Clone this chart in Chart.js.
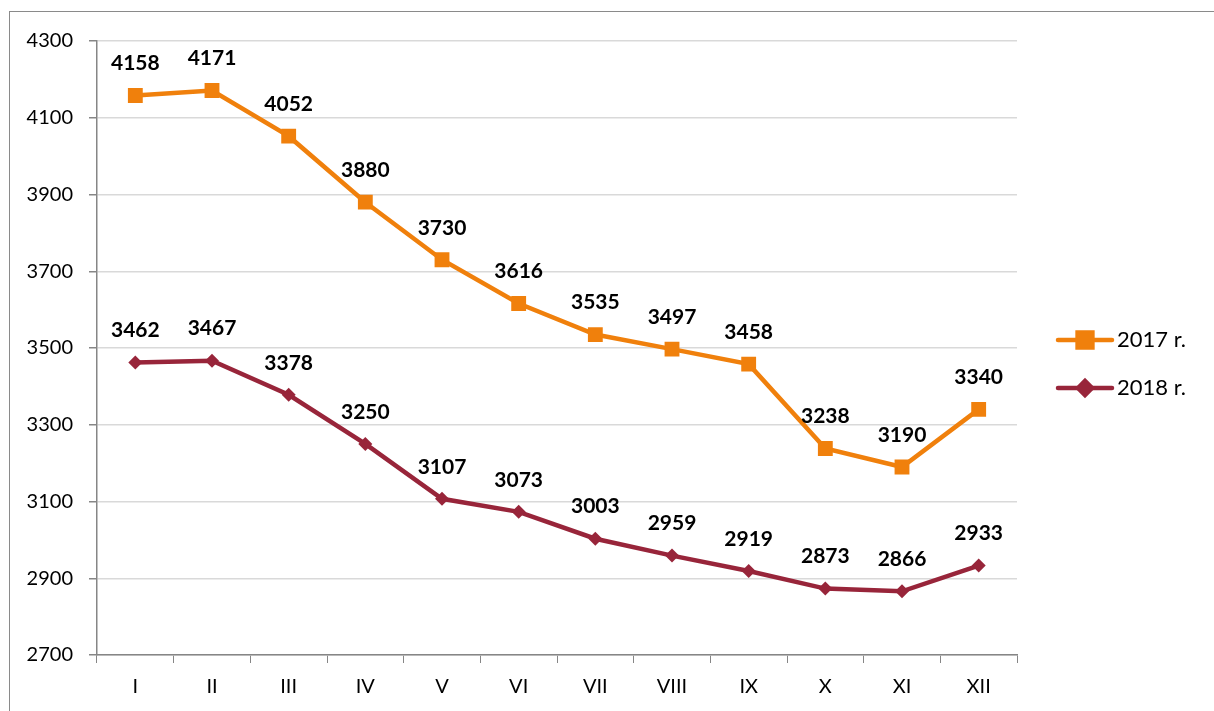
<!DOCTYPE html>
<html>
<head>
<meta charset="utf-8">
<script src="https://cdn.jsdelivr.net/npm/chart.js@4/dist/chart.umd.min.js"></script>
<style>
  html, body { margin: 0; padding: 0; background: #fff; }
  #wrap { width: 1214px; height: 711px; }
</style>
</head>
<body>
<div id="wrap"><canvas id="chart" width="1214" height="711"></canvas></div>
<script>
const months = ["I", "II", "III", "IV", "V", "VI", "VII", "VIII", "IX", "X", "XI", "XII"];
const values2017 = [4158, 4171, 4052, 3880, 3730, 3616, 3535, 3497, 3458, 3238, 3190, 3340];
const values2018 = [3462, 3467, 3378, 3250, 3107, 3073, 3003, 2959, 2919, 2873, 2866, 2933];
const seriesNames = ["2017 r.", "2018 r."];

const ORANGE = "#F0800C";
const DARKRED = "#98253A";
const FONT = "Lato, 'Open Sans', sans-serif";

// outer frame of the chart object
const framePlugin = {
  id: "frame",
  beforeDraw(chart) {
    const ctx = chart.ctx;
    ctx.save();
    ctx.fillStyle = "#fff";
    ctx.fillRect(0, 0, chart.width, chart.height);
    ctx.strokeStyle = "#8a8a8a";
    ctx.lineWidth = 1;
    ctx.strokeRect(9.5, 11.5, 1400, 900);
    ctx.restore();
  }
};

// value labels above each point
const valueLabels = {
  id: "valueLabels",
  afterDatasetsDraw(chart) {
    const ctx = chart.ctx;
    ctx.save();
    ctx.font = "bold 21px " + FONT;
    ctx.fillStyle = "#000";
    ctx.textAlign = "center";
    ctx.textBaseline = "middle";
    chart.data.datasets.forEach((ds, i) => {
      chart.getDatasetMeta(i).data.forEach((pt, j) => {
        ctx.fillText(String(ds.data[j]), pt.x, pt.y - 32);
      });
    });
    ctx.restore();
  }
};

// legend on the right: line with marker + label
const sideLegend = {
  id: "sideLegend",
  afterDraw(chart) {
    const ctx = chart.ctx;
    const x0 = 1058, x1 = 1112;
    const ys = [340, 388];
    ctx.save();
    chart.data.datasets.forEach((ds, i) => {
      const y = ys[i];
      ctx.strokeStyle = ds.borderColor;
      ctx.lineWidth = 4.5;
      ctx.lineCap = "round";
      ctx.beginPath();
      ctx.moveTo(x0, y);
      ctx.lineTo(x1, y);
      ctx.stroke();
      Chart.helpers.drawPoint(ctx, {
        pointStyle: ds.pointStyle,
        radius: ds.pointRadius,
        borderWidth: 1
      }, (x0 + x1) / 2, y);
      ctx.fillStyle = ds.borderColor;
      ctx.fill();
      ctx.fillStyle = "#000";
      ctx.font = "22px " + FONT;
      ctx.textAlign = "left";
      ctx.textBaseline = "middle";
      ctx.fillText(seriesNames[i], x1 + 5, y);
    });
    ctx.restore();
  }
};

new Chart(document.getElementById("chart"), {
  type: "line",
  data: {
    labels: months,
    datasets: [
      {
        label: seriesNames[0],
        data: values2017,
        borderColor: ORANGE,
        backgroundColor: ORANGE,
        borderWidth: 4.5,
        pointStyle: "rect",
        pointRadius: 10.5,
        pointHoverRadius: 10.5,
        pointBorderWidth: 0,
        tension: 0
      },
      {
        label: seriesNames[1],
        data: values2018,
        borderColor: DARKRED,
        backgroundColor: DARKRED,
        borderWidth: 4.5,
        pointStyle: "rectRot",
        pointRadius: 7,
        pointHoverRadius: 7,
        pointBorderWidth: 0,
        tension: 0
      }
    ]
  },
  options: {
    responsive: false,
    animation: false,
    layout: { padding: { top: 41, right: 197, left: 0, bottom: 0 } },
    plugins: {
      legend: { display: false },
      tooltip: { enabled: false }
    },
    scales: {
      x: {
        offset: true,
        grid: {
          display: true,
          offset: true,
          drawOnChartArea: false,
          drawTicks: true,
          tickLength: 8,
          tickColor: "#868686"
        },
        border: { color: "#868686", width: 1.5 },
        ticks: { color: "#000", font: { family: FONT, size: 20 }, padding: 12, maxRotation: 0 },
        afterFit(s) { s.height = 56; }
      },
      y: {
        min: 2700,
        max: 4300,
        ticks: {
          stepSize: 200,
          color: "#000",
          font: { family: FONT, size: 20 },
          padding: 16,
          callback: v => String(v)
        },
        grid: { color: "#d9d9d9", lineWidth: 1.5, tickLength: 8, tickColor: "#868686" },
        border: { color: "#868686", width: 1.5 },
        afterFit(s) { s.width = 97; }
      }
    }
  },
  plugins: [framePlugin, valueLabels, sideLegend]
});
</script>
</body>
</html>
